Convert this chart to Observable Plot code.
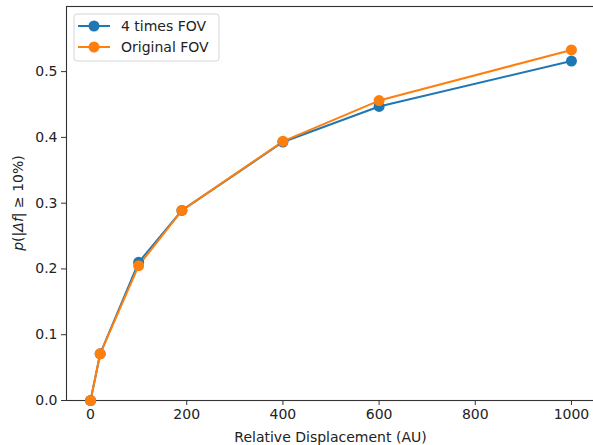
<!DOCTYPE html>
<html>
<head>
<meta charset="utf-8">
<script src="https://cdn.jsdelivr.net/npm/d3@7"></script>
<script src="https://cdn.jsdelivr.net/npm/@observablehq/plot@0.6"></script>
<style>
  html, body { margin: 0; padding: 0; background: #fff; }
  #wrap { width: 593px; height: 445px; overflow: hidden; }
  #wrap svg { max-width: none !important; }
</style>
</head>
<body>
<div id="wrap"></div>
<script>
const displacement = [0, 20, 100, 190, 400, 600, 1000];
const fov4 = [0, 0.071, 0.210, 0.289, 0.393, 0.447, 0.516];
const fovOrig = [0, 0.071, 0.205, 0.289, 0.394, 0.456, 0.533];
const seriesNames = ["4 times FOV", "Original FOV"];
const seriesColors = ["#1f77b4", "#ff7f0e"];
const xTicks = [0, 200, 400, 600, 800, 1000];
const yTicks = [0, 0.1, 0.2, 0.3, 0.4, 0.5];

const data = [
  ...displacement.map((x, i) => ({x, y: fov4[i], s: seriesNames[0]})),
  ...displacement.map((x, i) => ({x, y: fovOrig[i], s: seriesNames[1]}))
];

const font = "DejaVu Sans, sans-serif";
const W = 596, H = 445;
const chart = Plot.plot({
  width: W, height: H,
  marginLeft: 66, marginRight: 1, marginTop: 6, marginBottom: 45,
  style: {fontFamily: font, fontSize: "14px", color: "#222", background: "#fff", maxWidth: "none"},
  x: {domain: [-50, 1050]},
  y: {domain: [0, 0.599]},
  color: {domain: seriesNames, range: seriesColors},
  marks: [
    Plot.frame({stroke: "#333", strokeWidth: 1.1}),
    Plot.axisX({ticks: xTicks, tickSize: 5, tickPadding: 4, label: null, tickFormat: d => String(d), stroke: "#333"}),
    Plot.axisY({ticks: yTicks, tickSize: 5, tickPadding: 4, label: null, tickFormat: d3.format(".1f"), stroke: "#333"}),
    Plot.line(data, {x: "x", y: "y", stroke: "s", strokeWidth: 2}),
    Plot.dot(data, {x: "x", y: "y", fill: "s", r: 5.5})
  ]
});
document.getElementById("wrap").appendChild(chart);

const svg = d3.select(chart);
const xs = chart.scale("x"), ys = chart.scale("y");
// x label
svg.append("text")
  .attr("x", (xs.apply(-50) + xs.apply(1050)) / 2).attr("y", 442)
  .attr("text-anchor", "middle").attr("font-family", font).attr("font-size", 14).attr("fill", "#222")
  .text("Relative Displacement (AU)");
// y label
const yl = svg.append("text")
  .attr("transform", `translate(23,${(ys.apply(0) + ys.apply(0.599)) / 2}) rotate(-90)`)
  .attr("text-anchor", "middle").attr("font-family", font).attr("font-size", 14).attr("fill", "#222");
yl.append("tspan").attr("font-style", "italic").text("p");
yl.append("tspan").text("(|");
yl.append("tspan").attr("font-style", "italic").text("Δf");
yl.append("tspan").text("| ≥ 10%)");

// legend
const lg = svg.append("g").attr("transform", "translate(74,14)");
lg.append("rect").attr("width", 145).attr("height", 47).attr("rx", 3)
  .attr("fill", "#fff").attr("fill-opacity", 0.8).attr("stroke", "#d6d6d6");
seriesNames.forEach((name, i) => {
  const y = 12 + i * 21;
  lg.append("line").attr("x1", 4).attr("x2", 36).attr("y1", y).attr("y2", y)
    .attr("stroke", seriesColors[i]).attr("stroke-width", 2);
  lg.append("circle").attr("cx", 20).attr("cy", y).attr("r", 5.5).attr("fill", seriesColors[i]);
  lg.append("text").attr("x", 47).attr("y", y).attr("dy", "0.35em").attr("text-anchor", "start")
    .attr("font-family", font).attr("font-size", 14).attr("fill", "#222").text(name);
});
</script>
</body>
</html>
